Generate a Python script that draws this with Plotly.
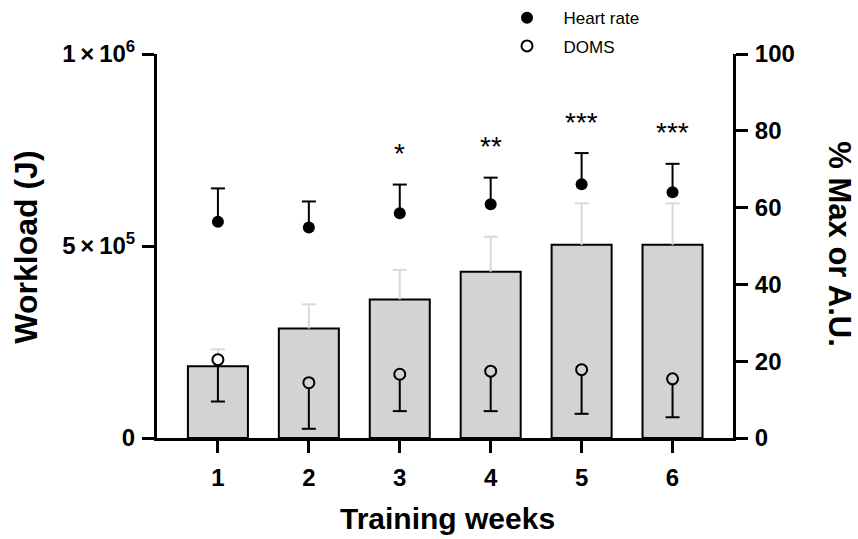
import plotly.graph_objects as go

# ---- data ----
weeks = [1, 2, 3, 4, 5, 6]
week_labels = ["1", "2", "3", "4", "5", "6"]
workload = [186700, 285000, 360800, 433000, 503000, 503000]
workload_sd = [44000, 63000, 77000, 91000, 108000, 108000]
heart_rate = [56.3, 54.8, 58.5, 60.9, 66.1, 64.0]
heart_rate_sd = [8.7, 6.8, 7.5, 6.9, 8.1, 7.4]
doms = [20.4, 14.4, 16.6, 17.4, 17.8, 15.4]
doms_sd = [10.9, 12.0, 9.6, 10.4, 11.5, 10.0]
sig_labels = ["", "", "*", "**", "***", "***"]
left_ticks = [0, 500000, 1000000]
left_ticktext = ["0", "5\u2009×\u200910<sup>5</sup>", "1\u2009×\u200910<sup>6</sup>"]
right_ticks = [0, 20, 40, 60, 80, 100]

FONT = "Liberation Sans, Arial, sans-serif"
BAR_GRAY = "#d3d3d3"
ERR_GRAY = "#d9d9d9"
BLACK = "#000000"

zeros = [0] * len(weeks)
hr_top = [m + s for m, s in zip(heart_rate, heart_rate_sd)]
doms_bot = [m - s for m, s in zip(doms, doms_sd)]
wl_top = [m + s for m, s in zip(workload, workload_sd)]
# open circles look filled with the bar colour when they sit inside a bar
doms_fill = [BAR_GRAY if d * 1e4 < w else "white" for d, w in zip(doms, workload)]

fig = go.Figure()

fig.add_trace(go.Bar(
    x=weeks, y=workload, width=0.66,
    marker=dict(color=BAR_GRAY, line=dict(color=BLACK, width=2)),
    error_y=dict(type="data", symmetric=False, array=workload_sd, arrayminus=zeros,
                 width=0, thickness=2, color=ERR_GRAY),
    showlegend=False, hoverinfo="skip",
))
fig.add_trace(go.Scatter(
    x=weeks, y=wl_top, mode="markers",
    marker=dict(symbol="line-ew", size=10, line=dict(color=ERR_GRAY, width=2)),
    showlegend=False, hoverinfo="skip",
))

fig.add_trace(go.Scatter(
    x=weeks, y=heart_rate, yaxis="y2", mode="markers", name="Heart rate",
    legendgroup="hr",
    marker=dict(symbol="circle", size=12, color=BLACK, line=dict(color=BLACK, width=0)),
    error_y=dict(type="data", symmetric=False, array=heart_rate_sd, arrayminus=zeros,
                 width=0, thickness=2, color=BLACK),
))
fig.add_trace(go.Scatter(
    x=weeks, y=hr_top, yaxis="y2", mode="markers",
    marker=dict(symbol="line-ew", size=10, line=dict(color=BLACK, width=2)),
    showlegend=False, hoverinfo="skip",
))

fig.add_trace(go.Scatter(
    x=weeks, y=doms, yaxis="y2", mode="markers", name="DOMS",
    legendgroup="doms",
    marker=dict(symbol="circle", size=11, color=doms_fill, line=dict(color=BLACK, width=2)),
    error_y=dict(type="data", symmetric=False, array=zeros, arrayminus=doms_sd,
                 width=0, thickness=2, color=BLACK),
))
fig.add_trace(go.Scatter(
    x=weeks, y=doms_bot, yaxis="y2", mode="markers",
    marker=dict(symbol="line-ew", size=10, line=dict(color=BLACK, width=2)),
    showlegend=False, hoverinfo="skip",
))

annotations = []
for wk, top, lab in zip(weeks, hr_top, sig_labels):
    if lab:
        annotations.append(dict(
            x=wk, y=top, xref="x", yref="y2", text=lab, showarrow=False,
            yanchor="middle", yshift=31,
            font=dict(family=FONT, size=28, color=BLACK),
        ))

annotations.append(dict(
    x=-0.229, y=0.496, xref="paper", yref="paper", text="<b>Workload (J)</b>",
    textangle=-90, showarrow=False, xanchor="center", yanchor="middle",
    font=dict(family=FONT, size=32, color=BLACK),
))
annotations.append(dict(
    x=1.1854, y=0.505, xref="paper", yref="paper", text="<b>% Max or A.U.</b>",
    textangle=90, showarrow=False, xanchor="center", yanchor="middle",
    font=dict(family=FONT, size=31, color=BLACK),
))
annotations.append(dict(
    x=0.505, y=-0.21, xref="paper", yref="paper", text="<b>Training weeks</b>",
    showarrow=False, xanchor="center", yanchor="middle",
    font=dict(family=FONT, size=30, color=BLACK),
))

axis_common = dict(
    showline=True, linecolor=BLACK, linewidth=3,
    ticks="outside", ticklen=12, tickwidth=3, tickcolor=BLACK,
    showgrid=False, zeroline=False, automargin=False,
    tickfont=dict(family=FONT, size=24, color=BLACK, weight="bold"),
)

fig.update_layout(
    template="none",
    width=858, height=539,
    margin=dict(l=157, r=125, t=54, b=101, autoexpand=False),
    paper_bgcolor="white", plot_bgcolor="white",
    barmode="overlay",
    font=dict(family=FONT, color=BLACK),
    xaxis=dict(range=[0.33, 6.665], tickvals=weeks, ticktext=week_labels,
               ticklabelstandoff=4, **axis_common),
    yaxis=dict(range=[0, 1000000], tickvals=left_ticks, ticktext=left_ticktext,
               ticklabelstandoff=2, **axis_common),
    yaxis2=dict(range=[0, 100], tickvals=right_ticks, overlaying="y", side="right",
                ticklabelstandoff=2, **axis_common),
    legend=dict(x=0.579, y=1.14, xanchor="left", yanchor="top",
                font=dict(family=FONT, size=17, color=BLACK),
                tracegroupgap=3, bgcolor="rgba(0,0,0,0)", itemwidth=63),
    annotations=annotations,
    showlegend=True,
)

fig.write_html(
    "out.html",
    config={"displayModeBar": False},
    post_script="document.body.style.margin='0px';document.body.style.overflow='hidden';",
)
